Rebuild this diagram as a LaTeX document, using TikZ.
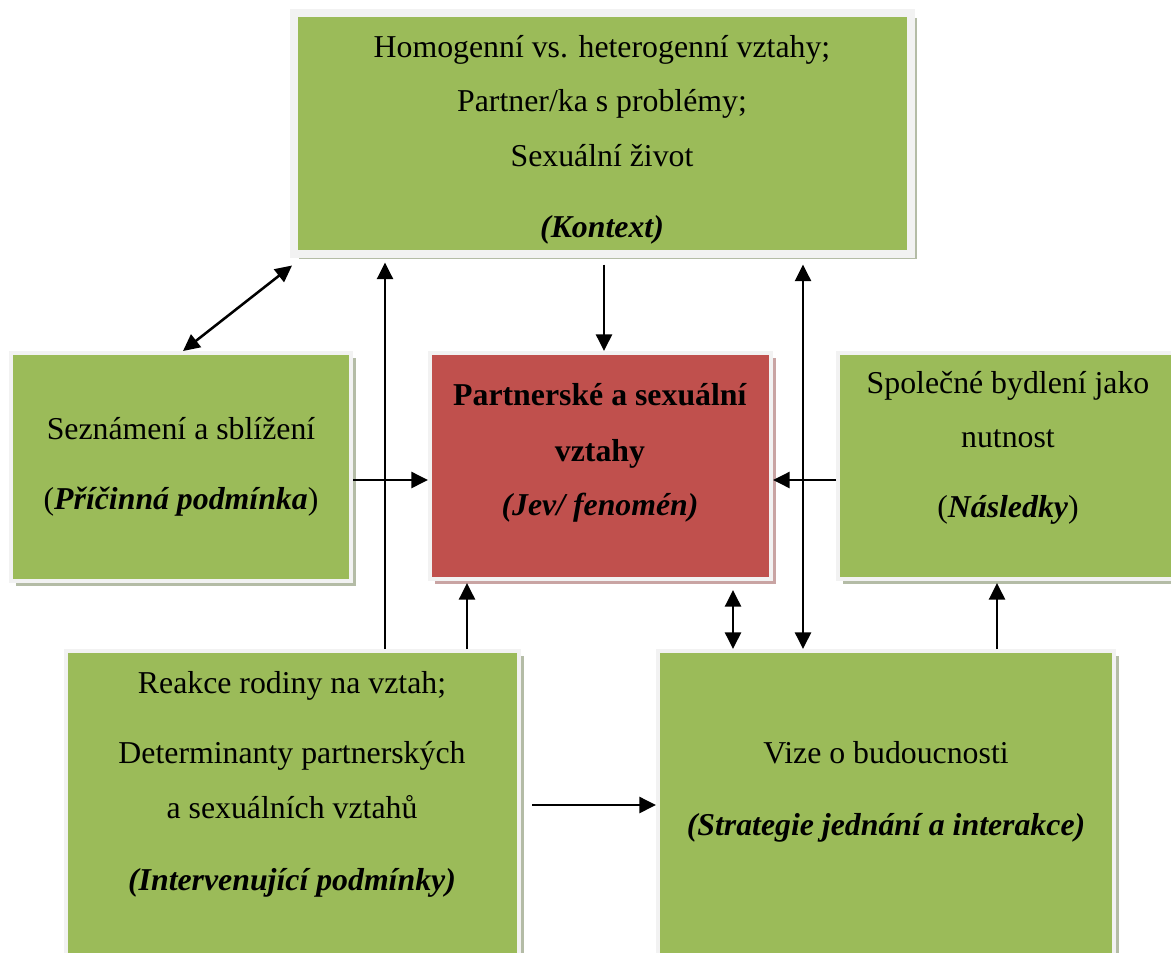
\documentclass[tikz,border=0pt]{standalone}
\usepackage{fontspec}
\setmainfont{Liberation Serif}
\usetikzlibrary{shadows,arrows.meta,calc}
\definecolor{boxgreen}{HTML}{9BBB59}
\definecolor{boxred}{HTML}{C0504D}
\definecolor{rimgrey}{HTML}{F2F2F2}
\definecolor{shadegreen}{HTML}{B4BCA6}
\definecolor{shadered}{HTML}{C9A4A3}
\begin{document}
\begin{tikzpicture}[x=0.75pt,y=-0.75pt,
  panel/.style={rectangle, inner sep=0pt, draw=rimgrey, line width=3pt,
    fill=boxgreen,
    general shadow={fill=shadegreen, shadow xshift=3.9pt, shadow yshift=-3.9pt}},
  redpanel/.style={panel, fill=boxred,
    general shadow={fill=shadered, shadow xshift=3.9pt, shadow yshift=-3.9pt}},
  txt/.style={anchor=base, inner sep=0pt, font=\fontsize{23.85}{28}\selectfont},
  tip/.tip={Triangle[length=12.5pt,width=12pt]},
  arr/.style={line width=1.9pt, -tip},
  dbl/.style={line width=1.9pt, tip-tip},
]
\useasboundingbox (0,0) rectangle (1171,953);
\clip (0,0) rectangle (1171,953);

% boxes
\node[panel, line width=6pt, minimum width=463.1pt, minimum height=180.4pt] (ctx) at (602.75,133.25) {};
\node[panel, minimum width=255pt, minimum height=171pt] (cause) at (181,467) {};
\node[redpanel, minimum width=255.75pt, minimum height=169.5pt] (phen) at (600.5,466) {};
\node[panel, minimum width=255pt, minimum height=169.5pt] (cons) at (1008,466) {};
\node[panel, minimum width=339.75pt, minimum height=261.75pt] (interv) at (292.5,825.5) {};
\node[panel, minimum width=342pt, minimum height=261.75pt] (strat) at (886,825.5) {};

% texts of the context box
\node[txt] (ctx1) at (602,57) {Homogenní vs. heterogenní vztahy;};
\node[txt] (ctx2) at (602,111) {Partner/ka s problémy;};
\node[txt] (ctx3) at (602,166) {Sexuální život};
\node[txt] (ctx4) at (602,237) {\textbf{\textit{(Kontext)}}};

% causal condition
\node[txt] (cause1) at (181,439) {Seznámení a sblížení};
\node[txt] (cause2) at (181,509) {(\textbf{\textit{Příčinná podmínka}})};

% phenomenon
\node[txt] (phen1) at (600,405) {\textbf{Partnerské a sexuální}};
\node[txt] (phen2) at (600,461) {\textbf{vztahy}};
\node[txt] (phen3) at (600,515) {\textbf{\textit{(Jev/ fenomén)}}};

% consequences
\node[txt] (cons1) at (1008,393) {Společné bydlení jako};
\node[txt] (cons2) at (1008,447) {nutnost};
\node[txt] (cons3) at (1008,517) {(\textbf{\textit{Následky}})};

% intervening conditions
\node[txt] (interv1) at (292,693) {Reakce rodiny na vztah;};
\node[txt] (interv2) at (292,763) {Determinanty partnerských};
\node[txt] (interv3) at (292,818) {a sexuálních vztahů};
\node[txt] (interv4) at (292,890) {\textbf{\textit{(Intervenující podmínky)}}};

% strategies
\node[txt] (strat1) at (886,763) {Vize o budoucnosti};
\node[txt] (strat2) at (886,835) {\textbf{\textit{(Strategie jednání a interakce)}}};

% connector guides
\coordinate (xa) at (385,0);
\coordinate (xb) at (604,0);
\coordinate (xc) at (803,0);
\coordinate (xd) at (467,0);
\coordinate (xe) at (733,0);
\coordinate (xf) at (997,0);
\coordinate (yh) at (0,480);
\coordinate (yl) at (0,805);

% connectors
\draw[dbl] ($(cause.north)+(2,0)$) -- ($(ctx.south west)+(2,8)$);
\draw[arr] (interv.north -| xa) -- ($(ctx.south -| xa)+(0,5)$);
\draw[arr] ($(ctx.south -| xb)+(0,7)$) -- (phen.north -| xb);
\draw[dbl] ($(ctx.south -| xc)+(0,7)$) -- (strat.north -| xc);
\draw[arr] (cause.east |- yh) -- (phen.west |- yh);
\draw[arr] (cons.west |- yh) -- (phen.east |- yh);
\draw[arr] (interv.north -| xd) -- ($(phen.south -| xd)+(0,2)$);
\draw[dbl] ($(phen.south -| xe)+(0,9)$) -- (strat.north -| xe);
\draw[arr] (strat.north -| xf) -- ($(cons.south -| xf)+(0,2)$);
\draw[arr] ($(interv.east |- yl)+(11,0)$) -- (strat.west |- yl);
\end{tikzpicture}
\end{document}
